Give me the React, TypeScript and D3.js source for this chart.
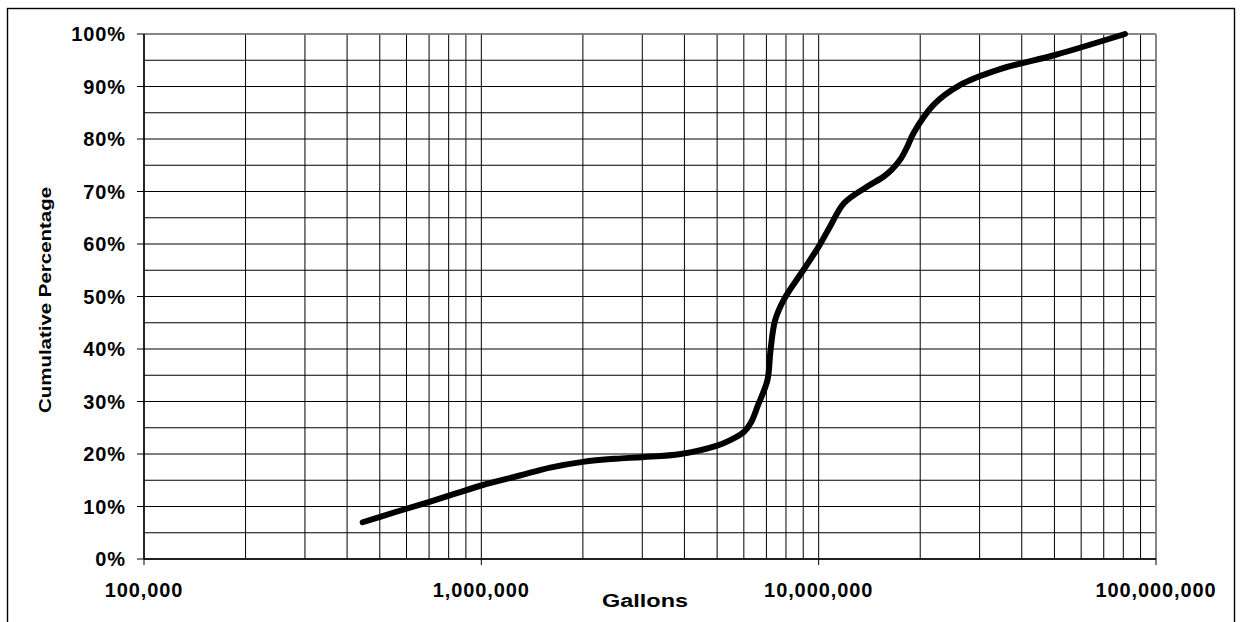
import React from "react";
import * as d3 from "d3";

const gallons = [445000, 560000, 694000, 850000, 1000000, 1300000, 1600000, 2000000, 2500000, 3000000, 3900000, 5000000, 5450000, 6000000, 6300000, 6600000, 7050000, 7200000, 7430000, 7900000, 9000000, 10000000, 10800000, 11900000, 13900000, 15560000, 16500000, 17500000, 18300000, 19100000, 21900000, 26300000, 34500000, 50200000, 80900000];
const percent = [7.0, 9.0, 10.8, 12.6, 14.0, 15.9, 17.4, 18.5, 19.1, 19.4, 20.0, 21.6, 22.6, 24.2, 26.0, 29.2, 34.1, 39.8, 45.5, 49.5, 55.0, 59.5, 63.3, 67.8, 70.9, 72.8, 74.2, 76.2, 78.5, 81.1, 86.5, 90.3, 93.3, 96.0, 100.0];

const xTickValues = [100000, 1000000, 10000000, 100000000];
const xTickLabels = ["100,000", "1,000,000", "10,000,000", "100,000,000"];
const yTickValues = [0, 10, 20, 30, 40, 50, 60, 70, 80, 90, 100];
const yTickLabels = ["0%", "10%", "20%", "30%", "40%", "50%", "60%", "70%", "80%", "90%", "100%"];

const W = 1240, H = 622;
const L = 144, R = 1156, T = 34, B = 559;

export default function App() {
  const x = d3.scaleLog().domain([1e5, 1e8]).range([L, R]);
  const y = d3.scaleLinear().domain([0, 100]).range([B, T]);

  const vGrid: number[] = [];
  for (let e = 5; e < 8; e++) for (let m = 1; m <= 9; m++) vGrid.push(m * Math.pow(10, e));
  vGrid.push(1e8);
  const hGrid = d3.range(0, 101, 5);

  const pts = gallons.map((g, i) => [g, percent[i]] as [number, number]);
  const line = d3.line<[number, number]>()
    .x(d => x(d[0]))
    .y(d => y(d[1]))
    .curve(d3.curveCatmullRom.alpha(0.5));

  const font = "'Liberation Sans', Arial, Helvetica, sans-serif";

  return (
    <svg width={W} height={H} style={{ position: "absolute", left: 0, top: 0, background: "#fff" }}>
      <rect x={7.5} y={8.5} width={1227} height={700} fill="#fff" stroke="#000" strokeWidth={1.4} />
      {hGrid.map(v => (
        <line key={"h" + v} x1={L} x2={R} y1={y(v)} y2={y(v)} stroke="#000" strokeWidth={1} />
      ))}
      {vGrid.map(v => (
        <line key={"v" + v} x1={x(v)} x2={x(v)} y1={T} y2={B} stroke="#000" strokeWidth={1} />
      ))}
      <line x1={L} x2={R} y1={T} y2={T} stroke="#888" strokeWidth={1.5} />
      <line x1={R} x2={R} y1={T} y2={B} stroke="#888" strokeWidth={1.5} />
      <line x1={L} x2={L} y1={T} y2={B} stroke="#000" strokeWidth={1.4} />
      <line x1={L} x2={R} y1={B} y2={B} stroke="#000" strokeWidth={1.4} />
      {yTickValues.map(v => (
        <line key={"yt" + v} x1={L - 7} x2={L} y1={y(v)} y2={y(v)} stroke="#000" strokeWidth={1} />
      ))}
      {xTickValues.map(v => (
        <line key={"xt" + v} x1={x(v)} x2={x(v)} y1={B} y2={B + 6} stroke="#000" strokeWidth={1} />
      ))}
      <path d={line(pts) || ""} fill="none" stroke="#000" strokeWidth={6} strokeLinecap="round" strokeLinejoin="round" />
      {yTickValues.map((v, i) => (
        <text key={"yl" + v} x={126} y={y(v) + 7} textAnchor="end" fontFamily={font} fontWeight="bold" fontSize={20} letterSpacing={0.9} fill="#000">
          {yTickLabels[i]}
        </text>
      ))}
      {xTickValues.map((v, i) => (
        <text key={"xl" + v} x={x(v)} y={597} textAnchor="middle" fontFamily={font} fontWeight="bold" fontSize={20} letterSpacing={0.9} fill="#000">
          {xTickLabels[i]}
        </text>
      ))}
      <text x={645} y={607} textAnchor="middle" fontFamily={font} fontWeight="bold" fontSize={18} textLength={86} lengthAdjust="spacingAndGlyphs" fill="#000">Gallons</text>
      <text transform="translate(51,300) rotate(-90)" textAnchor="middle" fontFamily={font} fontWeight="bold" fontSize={17} textLength={226} lengthAdjust="spacingAndGlyphs" fill="#000">Cumulative Percentage</text>
    </svg>
  );
}
